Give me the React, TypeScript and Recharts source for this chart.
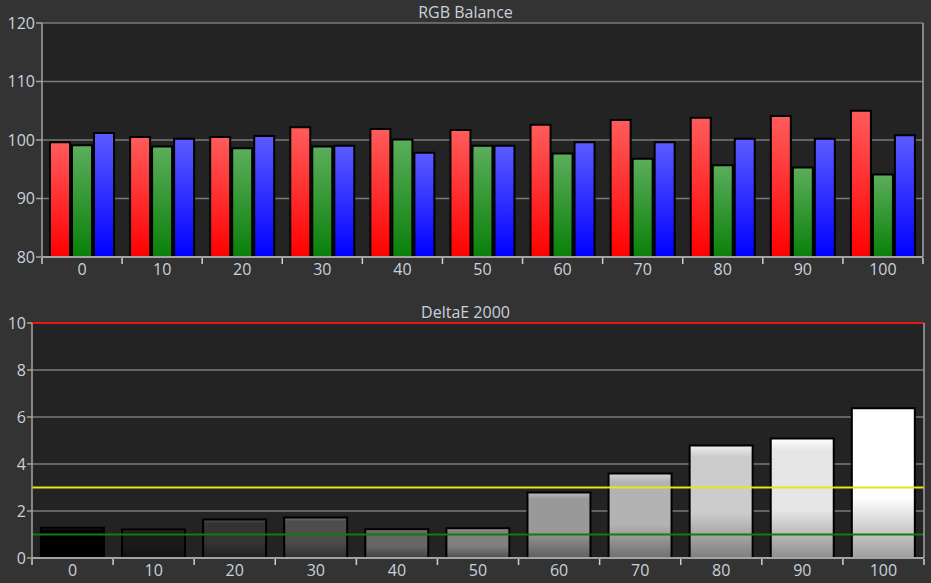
import { BarChart, Bar, XAxis, YAxis, CartesianGrid, ReferenceLine, Cell } from "recharts";

const levels = ["0", "10", "20", "30", "40", "50", "60", "70", "80", "90", "100"];
const red = [99.6, 100.5, 100.5, 102.2, 101.9, 101.7, 102.6, 103.4, 103.8, 104.1, 105.0];
const green = [99.1, 98.9, 98.6, 98.9, 100.1, 99.0, 97.7, 96.8, 95.7, 95.3, 94.1];
const blue = [101.2, 100.2, 100.7, 99.0, 97.8, 99.0, 99.6, 99.6, 100.2, 100.2, 100.8];
const deltaE = [1.29, 1.21, 1.64, 1.72, 1.22, 1.27, 2.79, 3.6, 4.79, 5.09, 6.37];
const rgbTicks = [80, 90, 100, 110, 120];
const deTicks = [0, 2, 4, 6, 8, 10];

const rgbData = levels.map((l, i) => ({ level: l, r: red[i], g: green[i], b: blue[i] }));
const deData = levels.map((l, i) => ({ level: l, de: deltaE[i] }));

const FONT = "'Open Sans', sans-serif";
const TXT = "#c9d1dc";
const AXIS = "#a3a3a3";

// x tick with marks on the category boundaries, like the original
const makeTick = (left: number, right: number, off: number) => (props: any) => {
  const { x, y, payload, index } = props;
  const band = (right - left) / levels.length;
  return (
    <g>
      <line x1={x - band / 2} x2={x - band / 2} y1={y + 1} y2={y + 7} stroke="#d0d0d0" strokeWidth={1.5} />
      {index === levels.length - 1 && (
        <line x1={x + band / 2} x2={x + band / 2} y1={y + 1} y2={y + 7} stroke="#d0d0d0" strokeWidth={1.5} />
      )}
      <text x={x} y={y + off} textAnchor="middle" fill={TXT} fontSize={16} fontFamily={FONT}>
        {payload.value}
      </text>
    </g>
  );
};

const grad = (id: string, top: string, bottom: string) => (
  <linearGradient id={id} x1="0" y1="0" x2="0" y2="1">
    <stop offset="0%" stopColor={top} />
    <stop offset="100%" stopColor={bottom} />
  </linearGradient>
);

const gray = (v: number) => {
  const c = Math.max(0, Math.min(255, Math.round(v)));
  return `rgb(${c},${c},${c})`;
};

const title = (text: string, top: number) => (
  <div
    style={{
      position: "absolute",
      top,
      left: 0,
      width: 931,
      textAlign: "center",
      color: TXT,
      fontFamily: FONT,
      fontSize: 16,
      lineHeight: "18px",
    }}
  >
    {text}
  </div>
);

export default function App() {
  return (
    <div style={{ position: "relative", width: 931, height: 583, background: "#333333" }}>
      <style>{"body{margin:0;background:#333333}"}</style>
      {title("RGB Balance", 3)}
      {title("DeltaE 2000", 303)}
      <div style={{ position: "absolute", top: 0, left: 0 }}>
        <BarChart
          width={931}
          height={290}
          data={rgbData}
          margin={{ top: 23, right: 0, left: 0, bottom: 0 }}
          barCategoryGap="10%"
          barGap={2}
        >
          <defs>
            {grad("gr", "#ff5c5c", "#ff0000")}
            {grad("gg", "#5cae5c", "#098009")}
            {grad("gb", "#5c5cff", "#0000ff")}
          </defs>
          <CartesianGrid vertical={false} stroke="#7a7a7a" strokeWidth={1.5} fill="#232323" />
          <XAxis
            dataKey="level"
            height={33}
            stroke={AXIS}
            strokeWidth={2}
            tickLine={false}
            tickSize={0}
            tickMargin={0}
            interval={0}
            tick={makeTick(42, 923, 18)}
          />
          <YAxis
            width={42}
            domain={[80, 120]}
            ticks={rgbTicks}
            stroke={AXIS}
            strokeWidth={1.5}
            tickSize={6}
            tickMargin={1}
            tick={{ fill: TXT, fontSize: 16, fontFamily: FONT }}
          />
          <YAxis yAxisId="r" orientation="right" width={8} stroke={AXIS} strokeWidth={1.5} tick={false} tickLine={false} />
          <Bar dataKey="r" fill="url(#gr)" stroke="#000" strokeWidth={2} isAnimationActive={false} />
          <Bar dataKey="g" fill="url(#gg)" stroke="#000" strokeWidth={2} isAnimationActive={false} />
          <Bar dataKey="b" fill="url(#gb)" stroke="#000" strokeWidth={2} isAnimationActive={false} />
        </BarChart>
      </div>
      <div style={{ position: "absolute", top: 290, left: 0 }}>
        <BarChart
          width={931}
          height={293}
          data={deData}
          margin={{ top: 33, right: 0, left: 0, bottom: 0 }}
          barCategoryGap="11%"
        >
          <defs>
            {levels.map((l, i) => {
              const c = i * 25.5;
              return (
                <linearGradient key={l} id={`gd${i}`} x1="0" y1="0" x2="0" y2="1">
                  <stop offset="0%" stopColor={gray(c + 35)} />
                  <stop offset="10%" stopColor={gray(c)} />
                  <stop offset="60%" stopColor={gray(c)} />
                  <stop offset="100%" stopColor={gray(c * 0.62)} />
                </linearGradient>
              );
            })}
          </defs>
          <CartesianGrid vertical={false} stroke="#7a7a7a" strokeWidth={1.5} fill="#232323" />
          <XAxis
            dataKey="level"
            height={25}
            stroke={AXIS}
            strokeWidth={2}
            tickLine={false}
            tickSize={0}
            tickMargin={0}
            interval={0}
            tick={makeTick(32, 924, 18)}
          />
          <YAxis
            width={32}
            domain={[0, 10]}
            ticks={deTicks}
            stroke={AXIS}
            strokeWidth={1.5}
            tickSize={5}
            tickMargin={1}
            tick={{ fill: TXT, fontSize: 16, fontFamily: FONT }}
          />
          <YAxis yAxisId="r" orientation="right" width={7} stroke={AXIS} strokeWidth={1.5} tick={false} tickLine={false} />
          <Bar dataKey="de" stroke="#000" strokeWidth={2} isAnimationActive={false}>
            {deData.map((d, i) => (
              <Cell key={d.level} fill={`url(#gd${i})`} />
            ))}
          </Bar>
          <ReferenceLine y={10} stroke="#e01818" strokeWidth={2} />
          <ReferenceLine y={3} stroke="#e6e619" strokeWidth={2} />
          <ReferenceLine y={1} stroke="#0f7d0f" strokeWidth={2} />
        </BarChart>
      </div>
    </div>
  );
}
